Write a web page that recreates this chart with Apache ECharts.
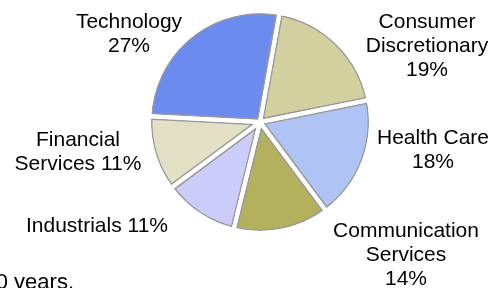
<!DOCTYPE html>
<html>
<head>
<meta charset="utf-8">
<script src="https://cdn.jsdelivr.net/npm/echarts@6/dist/echarts.min.js"></script>
<style>
  html, body { margin: 0; padding: 0; background: #fff; }
  #chart { width: 493px; height: 288px; }
</style>
</head>
<body>
<div id="chart"></div>
<script>
// sectors, clockwise from the left edge of Technology
var sectors = ['Technology', 'Consumer\nDiscretionary', 'Health Care', 'Communication\nServices', 'Industrials', 'Financial\nServices'];
var weights = [27, 19, 18, 14, 11, 11];
var colors = ['#6b8bee', '#d3d0a0', '#b0c3f5', '#b3b05e', '#ccccfa', '#e2e0c4'];
// how the percent joins the name in each label
var joiners = ['\n', '\n', '\n', '\n', ' ', ' '];
// label block centres
var labelPos = [[129, 34], [427, 46], [433, 150], [406, 255], [97, 226], [78, 152]];

var FONT = '"Liberation Sans", Arial, sans-serif';
var CENTER = [260, 122];
var R = 111;      // geometric radius, outline sits a little inside it
var GAP = 4;      // white gap between slices
var EDGE = 1.5;   // grey outline

var chart = echarts.init(document.getElementById('chart'));

var fillData = sectors.map(function (s, i) {
  return { name: s, value: weights[i], itemStyle: { color: colors[i] } };
});
var gapData = sectors.map(function (s, i) {
  return { name: s, value: weights[i] };
});

// sector labels, placed like the original
var labels = sectors.map(function (s, i) {
  return {
    type: 'text',
    x: labelPos[i][0],
    y: labelPos[i][1],
    silent: true,
    z: 10,
    style: {
      text: s + joiners[i] + weights[i] + '%',
      align: 'center',
      verticalAlign: 'middle',
      lineHeight: 24,
      fill: '#000',
      font: '21px ' + FONT
    }
  };
});

// clipped tail of the surrounding paragraph
labels.push({
  type: 'text',
  x: 74,
  y: 294,
  silent: true,
  z: 10,
  style: {
    text: '10 years.',
    align: 'right',
    verticalAlign: 'bottom',
    fill: '#000',
    font: '22px ' + FONT
  }
});

var common = {
  type: 'pie',
  center: CENTER,
  startAngle: 177,
  clockwise: true,
  silent: true,
  emphasis: { disabled: true },
  label: { show: false },
  labelLine: { show: false }
};

chart.setOption({
  animation: false,
  backgroundColor: '#fff',
  graphic: labels,
  series: [
    // slices with a wide grey edge
    Object.assign({}, common, {
      radius: R,
      z: 1,
      itemStyle: { borderColor: '#9a9a9a', borderWidth: GAP + 2 * EDGE, borderJoin: 'round' },
      data: fillData
    }),
    // white gap over every edge
    Object.assign({}, common, {
      radius: R,
      z: 2,
      itemStyle: { color: 'rgba(0,0,0,0)', borderColor: '#fff', borderWidth: GAP, borderJoin: 'round' },
      data: gapData
    }),
    // trims the outer grey ring
    Object.assign({}, common, {
      radius: [R - GAP / 2, R + 10],
      z: 3,
      itemStyle: { color: '#fff', borderWidth: 0 },
      data: [{ name: 'rim', value: 1 }]
    })
  ]
});
</script>
</body>
</html>
